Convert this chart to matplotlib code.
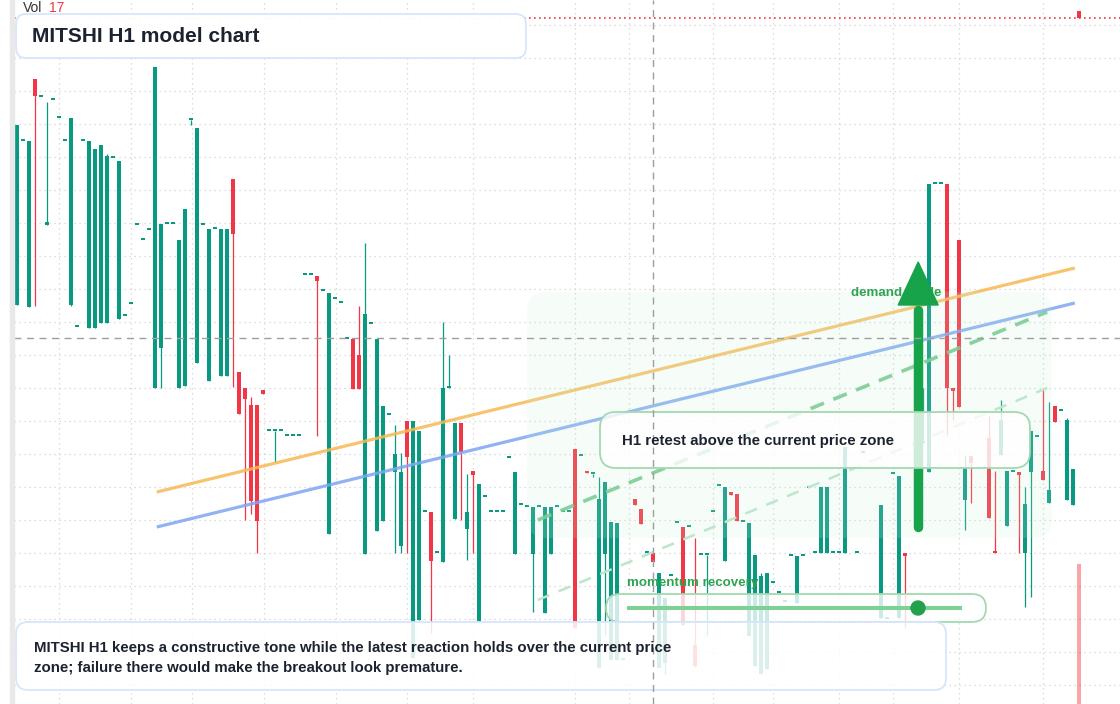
import numpy as np
import matplotlib
matplotlib.use("Agg")
import matplotlib.pyplot as plt
from matplotlib.patches import FancyBboxPatch, Polygon, Rectangle, Circle

plt.rcParams['font.family'] = ['Liberation Sans', 'DejaVu Sans']

# ---------------- text ----------------
title = "MITSHI H1 model chart"
note_lines = ["MITSHI H1 keeps a constructive tone while the latest reaction holds over the current price",
              "zone; failure there would make the breakout look premature."]
callout_text = "H1 retest above the current price zone"
zone_label = "demand guide"
momentum_label = "momentum recovery"
vol_label, vol_value = "Vol", "17"

N = None
# ---------------- OHLC (H1 bars) ----------------
opens = [139.5, 155.9, 139.3, 162.1, 160.3, 147.5, 160.0, 158.2, 155.9, 139.5,
         137.3, 155.9, 137.2, 137.2, 137.7, 137.7, 154.2, 138.1, 138.4, 139.6,
         147.5, 146.0, 147.0, 131.2, 135.2, 147.6, 147.6, 131.2, 131.4, 158.0,
         133.7, 147.5, 131.9, 147.1, 132.4, 132.4, 152.1, 132.8, 131.2, 129.5,
         129.5, 131.0, 126.9, 126.9, 126.9, 126.4, 126.4, 126.4, 142.5, 142.5,
         142.4, 140.9, 116.6, 140.1, 139.7, 136.1, 136.1, 134.5, 114.6, 137.6,
         116.9, 117.9, 128.5, 122.8, 115.4, 127.9, 104.2, 108.0, 118.8, 118.8,
         114.7, 113.8, 131.2, 118.1, 127.7, 117.1, 122.9, 107.8, 120.3, 118.8,
         118.8, 118.8, 124.2, 114.6, 119.5, 119.3, 114.6, 119.3, 108.7, 114.6,
         119.3, 118.8, 118.8, 125.1, 124.4, 122.9, 122.6, 103.2, 114.6, 104.0,
         104.0, 104.0, N, 120.1, 119.1, 114.7, 114.7, 103.2, 103.7, 112.4,
         117.7, 117.3, 117.3, 105.5, 114.5, 114.5, 118.8, 121.4, 113.9, 120.8,
         120.6, 117.8, 106.4, 103.4, 102.6, 103.1, 111.7, 110.7, 109.8, 114.4,
         109.7, 114.4, 121.2, 114.7, 114.7, 114.7, 114.7, 114.7, 114.7, N,
         114.7, 124.7, N, N, 108.2, 108.1, 122.6, 108.2, 114.7, N,
         N, 125.7, 122.8, 151.6, 151.6, 151.6, 131.2, 146.0, 120.0, 124.4,
         N, N, 126.2, 114.9, 124.5, 117.4, 122.8, 122.8, 114.7, 122.8,
         126.3, 122.9, 119.7, 129.4, 128.9, 120.0, 119.5]
highs = [157.5, 155.9, 155.9, 162.1, 160.3, 159.8, 160.0, 158.2, 155.9, 158.2,
         137.3, 155.9, 155.9, 155.1, 155.5, 154.6, 154.2, 153.9, 138.4, 139.6,
         147.5, 146.0, 147.0, 163.3, 147.6, 147.6, 147.6, 146.0, 149.1, 158.0,
         157.2, 147.5, 147.1, 147.1, 147.1, 147.1, 152.1, 132.8, 131.2, 130.3,
         129.5, 131.0, 126.9, 126.9, 126.9, 126.4, 126.4, 126.4, 142.5, 142.5,
         142.4, 140.9, 140.7, 140.1, 139.7, 136.1, 136.1, 139.4, 145.7, 137.6,
         136.1, 129.4, 128.5, 127.5, 124.7, 127.9, 127.9, 126.9, 118.8, 118.8,
         114.7, 137.8, 134.5, 127.7, 127.7, 122.6, 122.9, 121.6, 120.3, 118.8,
         118.8, 118.8, 124.2, 122.8, 119.5, 119.3, 119.3, 119.3, 119.3, 119.3,
         119.3, 118.8, 118.8, 125.1, 124.4, 122.9, 122.6, 122.3, 121.8, 117.8,
         117.7, 104.0, N, 120.1, 119.1, 114.7, 114.7, 112.7, 110.2, 112.4,
         117.7, 117.3, 117.3, 116.2, 114.5, 114.5, 118.8, 121.4, 121.3, 120.8,
         120.6, 117.8, 117.7, 114.5, 112.7, 112.7, 111.7, 110.7, 109.8, 114.4,
         114.4, 114.4, 121.2, 114.7, 121.3, 121.3, 114.7, 114.7, 125.3, N,
         114.7, 124.7, N, N, 119.5, 108.1, 122.6, 122.4, 114.7, N,
         N, 131.2, 151.6, 151.6, 151.6, 151.6, 131.2, 146.0, 124.4, 124.4,
         N, N, 128.4, 122.9, 130.0, 122.9, 122.8, 122.8, 121.3, 126.9,
         126.3, 131.2, 129.8, 129.4, 128.9, 128.2, 123.1]
lows = [139.5, 155.9, 139.3, 139.4, 160.3, 147.5, 160.0, 158.2, 155.9, 139.4,
        137.3, 155.9, 137.2, 137.2, 137.7, 137.7, 154.2, 138.1, 138.4, 139.6,
        147.5, 146.0, 147.0, 131.2, 131.2, 147.6, 147.6, 131.2, 131.4, 157.5,
        133.7, 147.5, 131.9, 147.1, 132.4, 132.4, 131.3, 128.6, 118.0, 118.6,
        114.7, 130.6, 126.9, 123.8, 126.9, 126.4, 126.4, 126.4, 142.5, 142.5,
        126.4, 140.9, 116.6, 140.1, 139.7, 136.1, 131.1, 131.1, 114.6, 137.6,
        116.9, 117.9, 128.5, 114.7, 114.7, 114.7, 104.2, 108.0, 118.8, 106.7,
        114.7, 113.8, 131.2, 118.1, 118.0, 114.0, 114.7, 107.8, 120.3, 118.8,
        118.8, 118.8, 124.2, 114.6, 119.5, 119.3, 108.8, 119.3, 108.7, 114.6,
        119.3, 118.8, 118.8, 107.2, 124.4, 122.7, 122.3, 103.2, 106.5, 104.0,
        104.0, 104.0, N, 119.5, 117.6, 114.7, 113.8, 103.2, 102.6, 112.4,
        117.7, 107.5, 117.3, 103.3, 114.5, 106.5, 118.8, 121.4, 113.9, 120.5,
        117.9, 117.8, 106.4, 103.4, 102.6, 103.1, 111.7, 110.7, 109.8, 114.4,
        109.7, 114.4, 121.2, 114.7, 114.7, 114.7, 114.7, 114.7, 114.7, N,
        114.7, 124.7, N, N, 108.2, 108.1, 122.6, 108.2, 107.2, N,
        N, 125.7, 122.8, 151.6, 151.6, 126.5, 128.0, 129.3, 117.0, 119.7,
        N, N, 118.2, 114.7, 124.5, 117.4, 122.8, 114.7, 109.3, 110.3,
        126.3, 122.0, 119.7, 127.8, 128.9, 120.0, 119.5]
closes = [157.5, 155.9, 155.9, 160.4, 160.3, 147.8, 160.0, 158.2, 155.9, 158.2,
          137.3, 155.9, 155.9, 155.1, 155.5, 154.4, 154.2, 153.9, 138.4, 139.6,
          147.5, 146.0, 147.0, 163.3, 147.6, 147.6, 147.6, 146.0, 149.1, 158.0,
          157.2, 147.5, 147.1, 147.1, 147.1, 147.1, 146.6, 128.6, 130.1, 119.9,
          117.9, 130.6, 126.9, 126.9, 126.9, 126.4, 126.4, 126.4, 142.5, 142.5,
          141.9, 140.9, 140.7, 140.1, 139.7, 136.1, 131.1, 131.1, 138.6, 137.6,
          136.1, 129.4, 128.5, 124.6, 122.8, 124.3, 127.9, 126.9, 118.8, 113.9,
          114.7, 131.2, 131.2, 127.7, 124.8, 118.8, 122.5, 121.6, 120.3, 118.8,
          118.8, 118.8, 124.2, 122.8, 119.5, 119.3, 119.3, 119.3, 119.3, 119.3,
          119.3, 118.8, 118.8, 107.2, 124.4, 122.7, 122.6, 120.1, 121.8, 117.8,
          117.7, 104.0, N, 119.5, 117.6, 114.7, 113.8, 112.7, 110.2, 112.4,
          117.7, 107.5, 117.3, 103.4, 114.5, 114.5, 118.8, 121.4, 121.3, 120.5,
          117.9, 117.8, 117.7, 114.5, 112.4, 112.7, 111.7, 110.7, 109.8, 114.4,
          114.4, 114.4, 121.2, 114.7, 121.3, 121.3, 114.7, 114.7, 125.3, N,
          114.7, 124.7, N, N, 119.5, 108.1, 122.6, 122.4, 114.4, N,
          N, 125.7, 151.6, 151.6, 151.6, 131.2, 130.9, 129.3, 123.2, 123.7,
          N, N, 118.2, 114.7, 128.0, 122.9, 122.8, 122.5, 119.6, 126.9,
          126.3, 122.0, 121.0, 127.8, 128.9, 128.0, 123.1]

# ---------------- overlays (bar index, price) ----------------
orange_x, orange_y = [23.3, 176.3], [120.8, 143.2]
blue_x, blue_y = [23.3, 176.3], [117.3, 139.7]
guide_x, guide_y = [86.8, 171.7], [118.0, 138.8]
guide2_x, guide2_y = [86.8, 171.7], [110.0, 131.2]
zone_x0, zone_x1, zone_lo, zone_hi = 85.0, 172.5, 116.2, 140.8
arrow_x, arrow_base, arrow_neck, arrow_tip = 150.2, 117.3, 139.5, 143.8
current_price = 136.2
last_price = 168.2
cursor_bar = 106
next_bar = 177
next_bar_lo, next_bar_hi = 99.6, 113.6
vol_marker_lo, vol_marker_hi = 168.2, 168.9
time_grid = [7, 19, 29.2, 41.2, 53.2, 65, 76, 93, 102, 116, 126, 137, 146, 157, 171]
price_grid = [101.5, 104.8, 108.1, 111.4, 114.7, 118.0, 121.3, 124.6, 127.9, 131.2,
              134.5, 137.8, 141.1, 144.4, 147.7, 151.0, 154.3, 157.6, 160.9, 164.2, 167.5]

UP, DOWN = '#089981', '#f23645'
TXT = '#1c2230'
GREEN = '#16a34a'
GTXT = '#2ea352'

W, H, DPI = 1120, 704, 100
fig = plt.figure(figsize=(W / DPI, H / DPI), dpi=DPI)
fig.patch.set_facecolor('white')
ax = fig.add_axes([14 / W, 0, 1 - 14 / W, 1])
ax.set_xlim(-0.5, (W - 17) / 6)
ax.set_ylim(99.6, 170.0)
ax.axis('off')
fig.patches.append(Rectangle((10 / W, 0), 4 / W, 1, transform=fig.transFigure,
                             color='#e9e9e9', zorder=0))

def px(x, y):
    return (x / DPI, (H - y) / DPI)

PT = fig.dpi_scale_trans

# grid
ax.vlines(time_grid, 99.6, 170, colors='#d2d2d2', lw=0.9, linestyles=(0, (1, 3)), zorder=0.5)
ax.hlines(price_grid, -0.5, 190, colors='#d2d2d2', lw=0.9, linestyles=(0, (1, 3)), zorder=0.5)
ax.axhline(last_price, color=DOWN, lw=1.2, ls=(0, (1, 2)), zorder=0.6)

# candles
o = np.array(opens, dtype=float); h = np.array(highs, dtype=float)
l = np.array(lows, dtype=float); c = np.array(closes, dtype=float)
idx = np.arange(len(o))
ok = ~np.isnan(o)
up = c >= o
cols = np.where(up, UP, DOWN)
bottom = np.minimum(o, c)
height = np.maximum(np.abs(c - o), 0.15)
ax.vlines(idx[ok], l[ok], h[ok], colors=cols[ok], lw=0.9, zorder=2)
ax.bar(idx[ok], height[ok], bottom=bottom[ok], width=0.82, color=cols[ok], linewidth=0, zorder=2.1)
ax.bar([next_bar], [next_bar_hi - next_bar_lo], bottom=next_bar_lo, width=0.82,
       color=DOWN, alpha=0.45, linewidth=0, zorder=2)
ax.bar([next_bar], [vol_marker_hi - vol_marker_lo], bottom=vol_marker_lo, width=0.82,
       color=DOWN, linewidth=0, zorder=2)

# trend lines
ax.plot(orange_x, orange_y, color='#f7b955', lw=2.3, alpha=0.85, solid_capstyle='butt', zorder=3)
ax.plot(blue_x, blue_y, color='#7ea6f2', lw=2.3, alpha=0.85, solid_capstyle='butt', zorder=3)
ax.plot(guide_x, guide_y, color='#6fc78a', lw=2.6, ls=(0, (4, 2.8)), alpha=0.9, zorder=3)
ax.plot(guide2_x, guide2_y, color='#bde5c9', lw=1.8, ls=(0, (5, 4)), zorder=3)

# demand zone (rounded, pixel-space radius)
(zx0, zy0) = ax.transData.transform((zone_x0, zone_lo)) / DPI
(zx1, zy1) = ax.transData.transform((zone_x1, zone_hi)) / DPI
ax.add_patch(FancyBboxPatch((zx0, zy0), zx1 - zx0, zy1 - zy0,
                            boxstyle="round,pad=0,rounding_size=0.2", transform=PT,
                            facecolor='#c8f0d4', alpha=0.16, edgecolor='none', zorder=3.5))
ax.text(*px(851, 293), zone_label, transform=PT, fontsize=9.6, fontweight='bold',
        color=GTXT, va='center', ha='left', zorder=4)

# arrow
ax.plot([arrow_x, arrow_x], [arrow_base, arrow_neck - 0.5], color=GREEN, lw=6.8,
        solid_capstyle='round', zorder=5)
ax.add_patch(Polygon([[arrow_x - 3.33, arrow_neck], [arrow_x + 3.33, arrow_neck],
                      [arrow_x, arrow_tip]], closed=True, color=GREEN, zorder=5))

# callout box
ax.add_patch(FancyBboxPatch(px(600, 468), 4.30, 0.56,
                            boxstyle="round,pad=0,rounding_size=0.16", transform=PT,
                            facecolor=(1, 1, 1, 0.8), edgecolor='#a3d9b1', lw=1.3, zorder=7))
ax.text(*px(622, 441), callout_text, transform=PT, fontsize=10.8, fontweight='bold',
        color=TXT, va='center', ha='left', zorder=9)

# momentum slider
ax.text(*px(627, 583), momentum_label, transform=PT, fontsize=9.6, fontweight='bold',
        color=GTXT, va='center', ha='left', zorder=7.6)
ax.add_patch(FancyBboxPatch(px(606, 622), 3.80, 0.28,
                            boxstyle="round,pad=0,rounding_size=0.14", transform=PT,
                            facecolor=(1, 1, 1, 0.8), edgecolor='#a3d9b1', lw=1.3, zorder=7))
sx0, sy = px(627, 607.5)
sx1, _ = px(962, 607.5)
ax.plot([sx0, sx1], [sy, sy], transform=PT, color='#7fd095', lw=2.9,
        solid_capstyle='butt', zorder=7.5)
ax.add_patch(Circle(px(918, 608), 0.07, transform=PT, color='#22a04b', zorder=7.6))

# note box
ax.add_patch(FancyBboxPatch(px(16, 690), 9.30, 0.68,
                            boxstyle="round,pad=0,rounding_size=0.12", transform=PT,
                            facecolor=(1, 1, 1, 0.86), edgecolor='#d8e5fb', lw=1.3, zorder=8))
ax.text(*px(34, 648), note_lines[0], transform=PT, fontsize=10.8, fontweight='bold',
        color=TXT, va='center', ha='left', zorder=9)
ax.text(*px(34, 668), note_lines[1], transform=PT, fontsize=10.8, fontweight='bold',
        color=TXT, va='center', ha='left', zorder=9)

# title box
ax.add_patch(FancyBboxPatch(px(16, 58), 5.10, 0.44,
                            boxstyle="round,pad=0,rounding_size=0.1", transform=PT,
                            facecolor=(1, 1, 1, 0.97), edgecolor='#d8e5fb', lw=1.3, zorder=8))
ax.text(*px(32, 36), title, transform=PT, fontsize=15, fontweight='bold',
        color=TXT, va='center', ha='left', zorder=9)

# crosshair
ax.axvline(cursor_bar, color='#9e9e9e', lw=1.0, ls=(0, (5, 4)), zorder=8.5)
ax.axhline(current_price, color='#9e9e9e', lw=1.0, ls=(0, (5, 4)), zorder=8.5)

# volume legend
ax.text(*px(23, 8), vol_label, transform=PT, fontsize=10, color='#333333',
        va='center', ha='left', zorder=9)
ax.text(*px(49, 8), vol_value, transform=PT, fontsize=10, color=DOWN,
        va='center', ha='left', zorder=9)

fig.savefig('out.png', dpi=DPI, facecolor='white')
